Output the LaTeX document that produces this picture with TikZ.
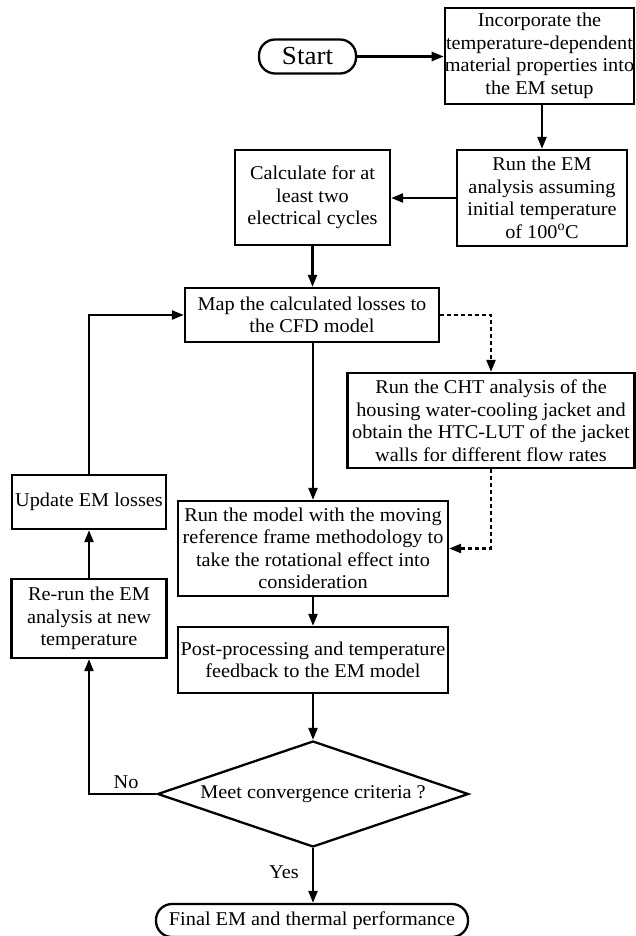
\documentclass[tikz,border=0pt]{standalone}
\usepackage{fontspec}
\setmainfont[FakeStretch=1.04]{Liberation Serif}
\usetikzlibrary{arrows.meta,shapes.geometric,calc}
\tikzset{
  base/.style={draw=black, line width=2.3pt, align=center, inner sep=0pt,
    font=\fontsize{19.5}{22.5}\selectfont},
  procbox/.style={base, rectangle},
  pill/.style={base, rectangle, rounded corners=16pt},
  decision/.style={base, diamond, aspect=2.93},
  arr/.style={line width=2.3pt, -{Triangle[length=12pt,width=9pt]}},
  dasharr/.style={arr, dash pattern=on 4pt off 3pt},
  lbl/.style={font=\fontsize{19.5}{22.5}\selectfont, inner sep=0pt}
}
\begin{document}
\begin{tikzpicture}[x=1pt,y=-1pt]
\useasboundingbox (0,0) rectangle (636,936);
\node[pill, minimum width=97pt, minimum height=34pt, font=\fontsize{26}{28}\selectfont] (start) at (307.5,56.5) {Start};
\node[procbox, minimum width=189pt, minimum height=96pt] (inc) at (539.5,56) {Incorporate the\\temperature-dependent\\material properties into\\the EM setup};
\node[procbox, minimum width=170pt, minimum height=96pt] (runem) at (542,198) {Run the EM\\analysis assuming\\initial temperature\\of 100\textsuperscript{o}C};
\node[procbox, minimum width=155pt, minimum height=95pt] (calc) at (312.5,197.5) {Calculate for at\\least two\\electrical cycles};
\node[procbox, minimum width=254pt, minimum height=54pt] (map) at (312,315) {Map the calculated losses to\\the CFD model};
\node[procbox, minimum width=287pt, minimum height=95pt] (cht) at (491,420.5) {Run the CHT analysis of the\\housing water-cooling jacket and\\obtain the HTC-LUT of the jacket\\walls for different flow rates};
\node[procbox, minimum width=154pt, minimum height=54pt] (update) at (89,502) {Update EM losses};
\node[procbox, minimum width=270pt, minimum height=95pt] (model) at (313,548.5) {Run the model with the moving\\reference frame methodology to\\take the rotational effect into\\consideration};
\node[procbox, minimum width=155pt, minimum height=79pt] (rerun) at (89,618.5) {Re-run the EM\\analysis at new\\temperature};
\node[procbox, minimum width=270pt, minimum height=66pt] (post) at (313,660) {Post-processing and temperature\\feedback to the EM model};
\node[decision, minimum width=311pt, minimum height=106pt] (dia) at (313,794) {Meet convergence criteria ?};
\node[pill, minimum width=312pt, minimum height=33pt] (final) at (312,920.5) {Final EM and thermal performance};
\node[lbl] (no) at (126,782) {No};
\node[lbl] (yes) at (284,872) {Yes};

\draw[arr] (start.east) -- (inc.west |- start.east);
\draw[arr] (runem.north |- inc.south) -- (runem.north);
\draw[arr] (runem.west) -- (calc.east |- runem.west);
\draw[arr] (calc.south) -- (calc.south |- map.north);
\draw[dasharr] (map.east) -| (cht.north);
\draw[dasharr] (cht.south) |- (model.east);
\draw[arr] (map.south -| model.north) -- (model.north);
\draw[arr] (model.south) -- (post.north);
\draw[arr] (post.south) -- (dia.north);
\draw[arr] (dia.south) -- (dia.south |- final.north);
\draw[arr] (dia.west) -| (rerun.south);
\draw[arr] (rerun.north) -- (update.south);
\draw[arr] (update.north) |- (map.west);
\end{tikzpicture}
\end{document}
